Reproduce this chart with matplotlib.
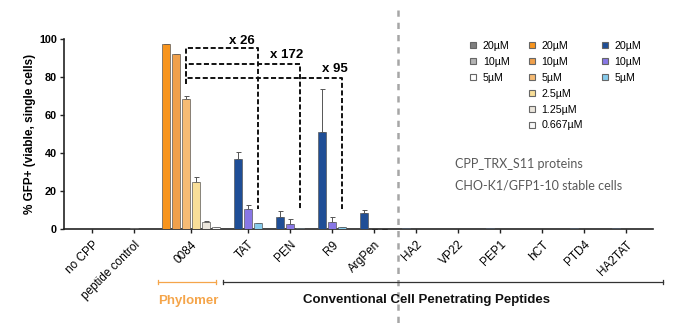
import matplotlib
matplotlib.use("Agg")
import matplotlib.pyplot as plt
from matplotlib.lines import Line2D
import numpy as np

plt.rcParams['font.family'] = ['Liberation Sans', 'DejaVu Sans']

# groups on the x axis
groups = ["no CPP", "peptide control", "0084", "TAT", "PEN", "R9", "ArgPen",
          "HA2", "VP22", "PEP1", "hCT", "PTD4", "HA2TAT"]

# controls (gray series: 20, 10, 5 uM)
control_labels = ["20\u00b5M", "10\u00b5M", "5\u00b5M"]
no_cpp = [0.0, 0.0, 0.0]
peptide_control = [0.2, 0.3, 0.2]

# phylomer 0084 (orange series: 20 .. 0.667 uM)
phylomer_labels = ["20\u00b5M", "10\u00b5M", "5\u00b5M", "2.5\u00b5M", "1.25\u00b5M", "0.667\u00b5M"]
p0084 = [97.3, 92.0, 68.2, 24.8, 3.6, 0.8]
p0084_err = [0.3, 0.3, 1.8, 2.8, 0.4, 0.2]

# conventional CPPs (blue series: 20, 10, 5 uM)
cpp_labels = ["20\u00b5M", "10\u00b5M", "5\u00b5M"]
tat = [36.7, 10.5, 3.0]
tat_err = [3.6, 2.0, 0.4]
pen = [6.1, 2.6, 0.4]
pen_err = [3.5, 2.5, 0.1]
r9 = [51.2, 3.9, 0.8]
r9_err = [22.3, 2.6, 0.2]
argpen = [8.2, 0.0, 0.0]
argpen_err = [1.8, 0.0, 0.0]
ha2 = [0.3, 0.2, 0.2]
vp22 = [0.2, 0.2, 0.1]
pep1 = [0.3, 0.2, 0.2]
hct = [0.2, 0.1, 0.1]
ptd4 = [0.3, 0.2, 0.1]
ha2tat = [0.4, 0.2, 0.2]

# fold changes noted on the brackets
fold_labels = ["x 26", "x 172", "x 95"]

gray_cols = ["#7f7f7f", "#b3b3b3", "#ffffff"]
orange_cols = ["#f7941d", "#f0a04b", "#f6bb74", "#f8de98", "#ebe6dc", "#f7f7f7"]
blue_cols = ["#1f4e96", "#8877e6", "#86cbec"]

group_vals = [no_cpp, peptide_control, p0084, tat, pen, r9, argpen,
              ha2, vp22, pep1, hct, ptd4, ha2tat]
group_errs = [None, None, p0084_err, tat_err, pen_err, r9_err, argpen_err,
              None, None, None, None, None, None]
group_cols = [gray_cols, gray_cols, orange_cols] + [blue_cols] * 10

# centres of groups, one unit per bar, fixed gap between groups
gap = 1.2
centers = []
pos = 0.0
for i, vals in enumerate(group_vals):
    if i > 0:
        pos += len(group_vals[i - 1]) / 2 + gap + len(vals) / 2
    centers.append(pos)

fig = plt.figure(figsize=(6.86, 3.29), dpi=100)
ax = fig.add_axes([64 / 686, 1 - 229 / 329, (653 - 64) / 686, 190 / 329])

bar_x = {}
for g, c, vals, errs, cols in zip(groups, centers, group_vals, group_errs, group_cols):
    n = len(vals)
    xs = c + np.arange(n) - (n - 1) / 2
    bar_x[g] = xs
    ax.bar(xs, vals, width=0.82, color=cols, edgecolor="#5a5a5a", linewidth=0.5, zorder=3)
    if errs is not None:
        ax.errorbar(xs, vals, yerr=[np.zeros(n), errs], fmt="none", ecolor="#555555",
                    elinewidth=0.7, capsize=1.8, capthick=0.7, zorder=2)

ax.set_xlim(-2.8, 56.1)
ax.set_ylim(0, 100)
ax.set_yticks([0, 20, 40, 60, 80, 100])
ax.set_yticklabels(["0", "20", "40", "60", "80", "100"], fontsize=7.8, fontweight="bold")
ax.set_xticks(centers)
ax.set_xticklabels(groups, rotation=45, ha="right", va="top", rotation_mode="anchor", fontsize=8.5)
ax.tick_params(axis="both", length=3, width=1, color="#222222", pad=2)
ax.tick_params(axis="x", pad=4)
for s in ["top", "right"]:
    ax.spines[s].set_visible(False)
for s in ["left", "bottom"]:
    ax.spines[s].set_linewidth(1.2)
    ax.spines[s].set_color("#222222")
ax.set_ylabel("% GFP+ (viable, single cells)", fontsize=8.5, fontweight="bold", labelpad=2)

# fold-change brackets (dashed)
left_x = bar_x["0084"][2]
bracket_targets = ["TAT", "PEN", "R9"]
bracket_y = [95.1, 86.8, 79.3]
label_pos = [(15.0, 99.0), (19.5, 91.6), (24.3, 84.2)]
for tgt, yb, lab, (lx, ly) in zip(bracket_targets, bracket_y, fold_labels, label_pos):
    rx = bar_x[tgt][2]
    ax.plot([left_x, left_x, rx, rx], [76.5, yb, yb, 10.5], color="#111111", lw=1.4,
            ls=(0, (2.6, 1.3)), zorder=4, clip_on=False)
    ax.text(lx, ly, lab, fontsize=9.5, fontweight="bold", ha="center", va="center")

# gray separator
sep_x = (centers[6] + centers[7]) / 2 + 0.25
ax.plot([sep_x, sep_x], [115.3, -52.6], color="#a6a6a6", lw=1.8, ls=(0, (2.5, 2.4)),
        clip_on=False, zorder=1)

# group brackets under the axis
trans = ax.get_xaxis_transform()
def bracket(x0, x1, y, col):
    ax.plot([x0, x1], [y, y], color=col, lw=0.9, transform=trans, clip_on=False)
    for xx in (x0, x1):
        ax.plot([xx, xx], [y - 0.012, y + 0.012], color=col, lw=0.9, transform=trans, clip_on=False)

yb = -(282 - 229) / 190
bracket(6.6, 12.4, yb, "#f5a54a")
bracket(13.1, 57.1, yb, "#333333")
ax.text(9.6, -(301 - 229) / 190, "Phylomer", transform=trans, color="#f5a54a",
        fontsize=9.5, fontweight="bold", ha="center", va="center")
ax.text(33.45, -(300 - 229) / 190, "Conventional Cell Penetrating Peptides", transform=trans,
        color="#111111", fontsize=9.5, fontweight="bold", ha="center", va="center")

# info text
fig.text(455 / 686, 1 - 164 / 329, "CPP_TRX_S11 proteins", fontsize=9, color="#595959",
         family="Lato", va="center", ha="left")
fig.text(455 / 686, 1 - 185 / 329, "CHO-K1/GFP1-10 stable cells", fontsize=9, color="#595959",
         family="Lato", va="center", ha="left")

# legend, three columns padded with blanks
def mk(c):
    return Line2D([], [], marker="s", ls="", markersize=4.8, markerfacecolor=c,
                  markeredgecolor="#666666", markeredgewidth=0.8)
blank = Line2D([], [], ls="", marker=None)
handles = [mk(c) for c in gray_cols] + [blank] * 3 + [mk(c) for c in orange_cols] \
    + [mk(c) for c in blue_cols] + [blank] * 3
labels = control_labels + [""] * 3 + phylomer_labels + cpp_labels + [""] * 3
fig.legend(handles, labels, ncol=3, loc="upper left", bbox_to_anchor=(469 / 686, 1 - 41 / 329),
           frameon=False, fontsize=7.7, handlelength=0.8, handletextpad=0.5,
           labelspacing=0.55, columnspacing=1.65, borderpad=0, borderaxespad=0)

fig.savefig("out.png", dpi=100)
